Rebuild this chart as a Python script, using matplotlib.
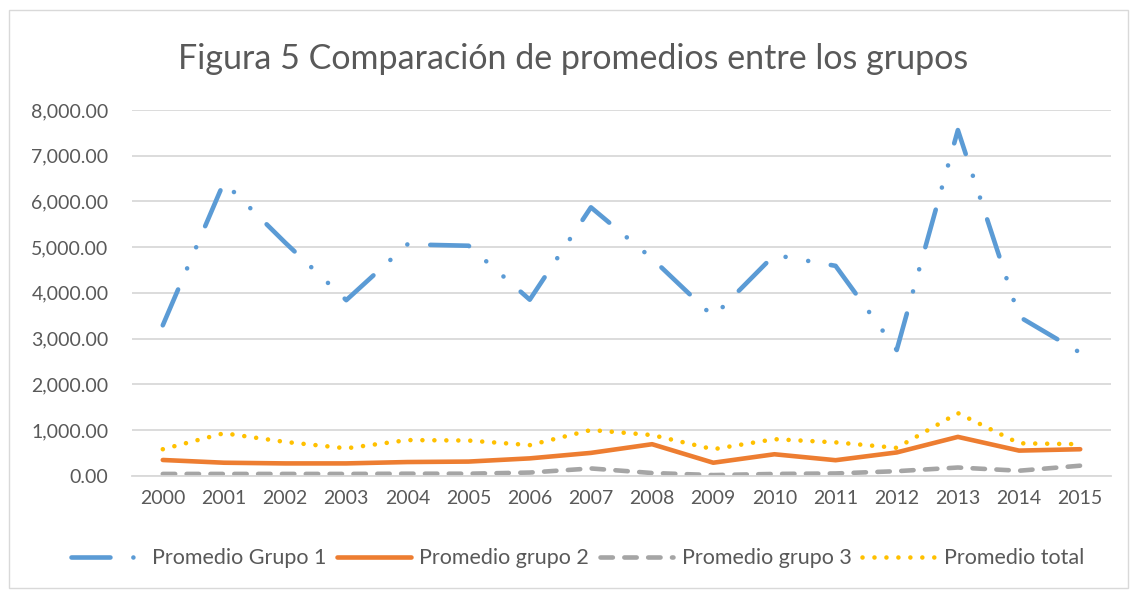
import numpy as np
import matplotlib
matplotlib.use("Agg")
import matplotlib.pyplot as plt
from matplotlib.ticker import FuncFormatter

plt.rcParams['font.family'] = ['Lato', 'DejaVu Sans']

# datos
anios = [str(a) for a in range(2000, 2016)]
grupo1 = [3290, 6420, 5100, 3840, 5060, 5030, 3850, 5870, 4750, 3480, 4830, 4590, 2750, 7560, 3480, 2690]
grupo2 = [345, 285, 270, 270, 300, 310, 380, 500, 690, 285, 470, 340, 510, 850, 550, 580]
grupo3 = [40, 40, 40, 40, 45, 45, 70, 160, 60, 15, 40, 50, 100, 180, 110, 220]
total = [580, 930, 740, 600, 780, 770, 670, 1000, 890, 580, 800, 730, 610, 1370, 710, 690]

gris_txt = '#595959'

fig = plt.figure(figsize=(11.3, 5.91), dpi=100)
ax = fig.add_axes([0.117, 0.195, 0.866, 0.619])

x = np.arange(len(anios))
lw = 3.3
ax.plot(x, grupo1, color='#5B9BD5', lw=lw, dashes=(8.5, 5, 0.01, 5, 0.01, 5),
        dash_capstyle='round', label='Promedio Grupo 1')
ax.plot(x, grupo2, color='#ED7D31', lw=lw, solid_capstyle='round',
        solid_joinstyle='round', label='Promedio grupo 2')
ax.plot(x, grupo3, color='#A5A5A5', lw=lw, dashes=(2.7, 2.5),
        dash_capstyle='round', label='Promedio grupo 3')
ax.plot(x, total, color='#FFC000', lw=lw, dashes=(0.01, 2.6),
        dash_capstyle='round', label='Promedio total')

ax.set_xlim(-0.5, len(anios) - 0.5)
ax.set_ylim(0, 8000)
ax.set_yticks(np.arange(0, 8001, 1000))
ax.yaxis.set_major_formatter(FuncFormatter(lambda v, p: f'{v:,.2f}'))
ax.set_xticks(x)
ax.set_xticklabels(anios)
ax.grid(axis='y', color='#D9D9D9', lw=1.3)
ax.set_axisbelow(True)
for s in ['top', 'right', 'left']:
    ax.spines[s].set_visible(False)
ax.spines['bottom'].set_color('#D9D9D9')
ax.spines['bottom'].set_linewidth(1.3)
ax.tick_params(length=0, colors=gris_txt, labelsize=14)
ax.tick_params(axis='y', pad=17)
ax.tick_params(axis='x', pad=10)

fig.text(0.507, 0.9, 'Figura 5 Comparación de promedios entre los grupos',
         ha='center', va='center', fontsize=24.5, color=gris_txt)

fig.legend(loc='center', bbox_to_anchor=(0.511, 0.055), ncol=4, frameon=False,
           fontsize=15.5, handlelength=3.4, columnspacing=0.5, handletextpad=0.4,
           labelcolor=gris_txt)

# borde del area del grafico
fig.patches.append(plt.Rectangle((0.008, 0.005), 0.99, 0.978, transform=fig.transFigure,
                                 fill=False, edgecolor='#D9D9D9', lw=1))

fig.savefig('out.png', dpi=100)
